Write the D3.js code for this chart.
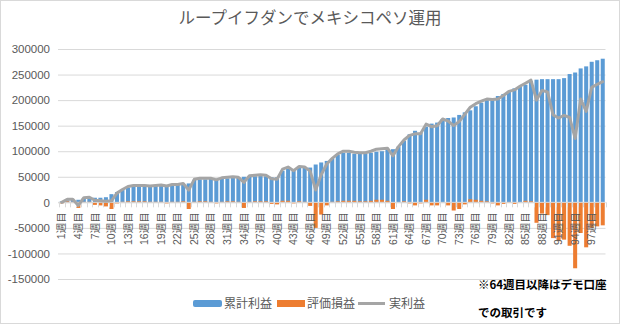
<!DOCTYPE html>
<html>
<head>
<meta charset="utf-8">
<script src="https://cdn.jsdelivr.net/npm/d3@7"></script>
<style>
  body { margin: 0; background: #fff; }
  svg { display: block; font-family: "Liberation Sans", "Noto Sans CJK JP", sans-serif; }
</style>
</head>
<body>
<div class="chart-wrapper"></div>
<script>
const title = 'ループイフダンでメキシコペソ運用'

// weeks 1..99
const weeks = d3.range(1, 100).map(n => n + '週目')

// 累計利益
const cumulative = [
  2000, 4000, 5000, 5000, 8000, 9000, 9000, 9000, 10000, 16000,
  20000, 24000, 29000, 31000, 31000, 31000, 31000, 32000, 33000, 34000,
  34000, 34000, 35000, 37000, 44000, 45000, 45000, 46000, 46000, 47000,
  47000, 48000, 48000, 50000, 51000, 51000, 52000, 51000, 49000, 49000,
  62000, 66000, 64000, 68000, 68000, 68000, 74000, 78000, 81000, 85000,
  93000, 97000, 97000, 95000, 95000, 95000, 97000, 99000, 100000, 103000,
  104000, 109000, 120000, 133000, 140000, 136000, 148000, 154000, 156000, 163000,
  165000, 166000, 171000, 176000, 180000, 188000, 195000, 200000, 203000, 208000,
  212000, 218000, 223000, 227000, 230000, 237000, 240000, 241000, 241000, 241000,
  241000, 243000, 251000, 254000, 262000, 266000, 275000, 278000, 281000
]

// 評価損益
const unrealized = [
  -2000, 2000, 1000, -11000, 1000, 1000, -5000, -6000, -8000, -13000,
  -2000, 1000, 2000, 2000, 2000, 2000, 1000, 1000, 1000, -2000,
  1000, 1000, 2000, -13000, 1000, 2000, 2000, 1000, -2000, 1000,
  2000, 2000, 1000, -11000, 1000, 2000, 2000, 2000, -3000, -4000,
  3000, 3000, -2000, 2000, 1000, -7000, -50000, -24000, -6000, 1000,
  2000, 3000, 3000, 3000, 2000, 2000, 3000, 5000, 5000, 3000,
  -13000, 0, 2000, -2000, -6000, -2000, 5000, -6000, -6000, 0,
  -6000, -16000, -13000, -4000, 6000, 5000, 3000, 2000, -2000, -6000,
  -3000, -1000, -3000, 0, 3000, 2000, -40000, -22000, -25000, -70000,
  -76000, -73000, -85000, -129000, -60000, -88000, -50000, -47000, -45000
]

// 実利益
const realized = [
  0, 6000, 6000, -6000, 9000, 10000, 4000, 3000, 2000, 3000,
  18000, 25000, 31000, 33000, 33000, 33000, 32000, 33000, 34000, 32000,
  35000, 35000, 37000, 24000, 45000, 47000, 47000, 47000, 44000, 48000,
  49000, 50000, 49000, 39000, 52000, 53000, 54000, 53000, 46000, 45000,
  65000, 69000, 62000, 70000, 69000, 61000, 24000, 54000, 75000, 86000,
  95000, 100000, 100000, 98000, 97000, 97000, 100000, 104000, 105000, 106000,
  91000, 109000, 122000, 131000, 134000, 134000, 153000, 148000, 150000, 163000,
  159000, 150000, 158000, 172000, 186000, 193000, 198000, 202000, 201000, 202000,
  209000, 217000, 220000, 227000, 233000, 239000, 200000, 219000, 216000, 171000,
  165000, 170000, 166000, 125000, 202000, 178000, 225000, 231000, 236000
]

const yTicks = [-150000, -100000, -50000, 0, 50000, 100000, 150000, 200000, 250000, 300000]
const seriesNames = ['累計利益', '評価損益', '実利益']
const noteLines = ['※64週目以降はデモ口座', 'での取引です']

const width = 620
const height = 325
const colors = ['#5b9bd5', '#ed7d31', '#a5a5a5']

const svg = d3.select('.chart-wrapper')
  .append('svg')
  .attr('width', width)
  .attr('height', height)

svg.append('rect')
  .attr('x', 0.5).attr('y', 0.5)
  .attr('width', width - 1).attr('height', height - 2)
  .attr('fill', '#fff')
  .attr('stroke', '#d9d9d9')

let x = d3.scaleBand()
  .domain(weeks)
  .range([59, 605.5])
  .paddingInner(0.27)
  .paddingOuter(0.135)

let y = d3.scaleLinear()
  .domain([-150000, 300000])
  .range([279, 49])

// title
svg.append('text')
  .attr('x', 310)
  .attr('y', 24)
  .attr('text-anchor', 'middle')
  .attr('font-family', '"Noto Sans CJK JP", sans-serif')
  .attr('font-size', 16.5)
  .attr('fill', '#595959')
  .text(title)

// gridlines + y labels
const yAxis = d3.axisLeft(y)
  .tickValues(yTicks)
  .tickSize(-(605.5 - 58))
  .tickPadding(8)
  .tickFormat(d => d)

svg.append('g')
  .attr('transform', 'translate(58,0)')
  .call(yAxis)
  .call(g => g.select('.domain').remove())
  .call(g => g.selectAll('line').attr('stroke', '#d9d9d9'))
  .call(g => g.selectAll('text')
    .attr('fill', '#595959')
    .attr('font-size', 11.5))

// blue bars
svg.append('g')
  .selectAll('rect')
  .data(cumulative)
  .enter()
  .append('rect')
  .attr('x', (d, i) => x(weeks[i]))
  .attr('width', x.bandwidth())
  .attr('y', d => y(Math.max(0, d)))
  .attr('height', d => Math.abs(y(d) - y(0)))
  .attr('fill', colors[0])

// orange bars
svg.append('g')
  .selectAll('rect')
  .data(unrealized)
  .enter()
  .append('rect')
  .attr('x', (d, i) => x(weeks[i]))
  .attr('width', x.bandwidth())
  .attr('y', d => y(Math.max(0, d)))
  .attr('height', d => Math.abs(y(d) - y(0)))
  .attr('fill', colors[1])

// category axis at zero
const step = x.step()
const axisG = svg.append('g')
axisG.append('line')
  .attr('x1', 58).attr('x2', 605.5)
  .attr('y1', y(0)).attr('y2', y(0))
  .attr('stroke', '#d9d9d9')

axisG.selectAll('.tick-mark')
  .data(d3.range(weeks.length + 1))
  .enter()
  .append('line')
  .attr('x1', i => Math.round(x(weeks[0]) - step * x.paddingInner() / 2 + i * step) + 0.5)
  .attr('x2', i => Math.round(x(weeks[0]) - step * x.paddingInner() / 2 + i * step) + 0.5)
  .attr('y1', y(0))
  .attr('y2', y(0) + 5)
  .attr('stroke', '#d9d9d9')

axisG.selectAll('.xlabel')
  .data(weeks.filter((d, i) => i % 3 === 0))
  .enter()
  .append('text')
  .attr('transform', d => `translate(${x(d) + x.bandwidth() / 2},${y(0) + 10}) rotate(-90)`)
  .attr('text-anchor', 'end')
  .attr('dy', '0.35em')
  .attr('font-size', 10.5)
  .attr('fill', '#595959')
  .text(d => d)

// realized line
const line = d3.line()
  .x((d, i) => x(weeks[i]) + x.bandwidth() / 2)
  .y(d => y(d))

svg.append('path')
  .datum(realized)
  .attr('d', line)
  .attr('fill', 'none')
  .attr('stroke', colors[2])
  .attr('stroke-width', 3)
  .attr('stroke-linejoin', 'round')
  .attr('stroke-linecap', 'round')

// legend
const legend = svg.append('g')
  .attr('font-family', '"Noto Sans CJK JP", sans-serif')
  .attr('font-size', 12)
  .attr('fill', '#595959')

const legendX = [193, 277, 358]
const textX = [224, 307, 389]

legend.append('rect')
  .attr('x', legendX[0]).attr('y', 300).attr('width', 29).attr('height', 7)
  .attr('rx', 2)
  .attr('fill', colors[0])
legend.append('rect')
  .attr('x', legendX[1]).attr('y', 300).attr('width', 28).attr('height', 7)
  .attr('fill', colors[1])
legend.append('line')
  .attr('x1', legendX[2]).attr('x2', legendX[2] + 27)
  .attr('y1', 303.5).attr('y2', 303.5)
  .attr('stroke', colors[2])
  .attr('stroke-width', 3)

legend.selectAll('.ltext')
  .data(seriesNames)
  .enter()
  .append('text')
  .attr('x', (d, i) => textX[i])
  .attr('y', 304)
  .attr('dy', '0.35em')
  .text(d => d)

// note
svg.append('g')
  .selectAll('text')
  .data(noteLines)
  .enter()
  .append('text')
  .attr('x', 478)
  .attr('y', (d, i) => 285 + i * 28)
  .attr('dy', '0.35em')
  .attr('font-family', '"Noto Sans CJK JP", sans-serif')
  .attr('font-weight', 'bold')
  .attr('font-size', 11.5)
  .attr('fill', '#000')
  .text(d => d)
</script>
</body>
</html>
